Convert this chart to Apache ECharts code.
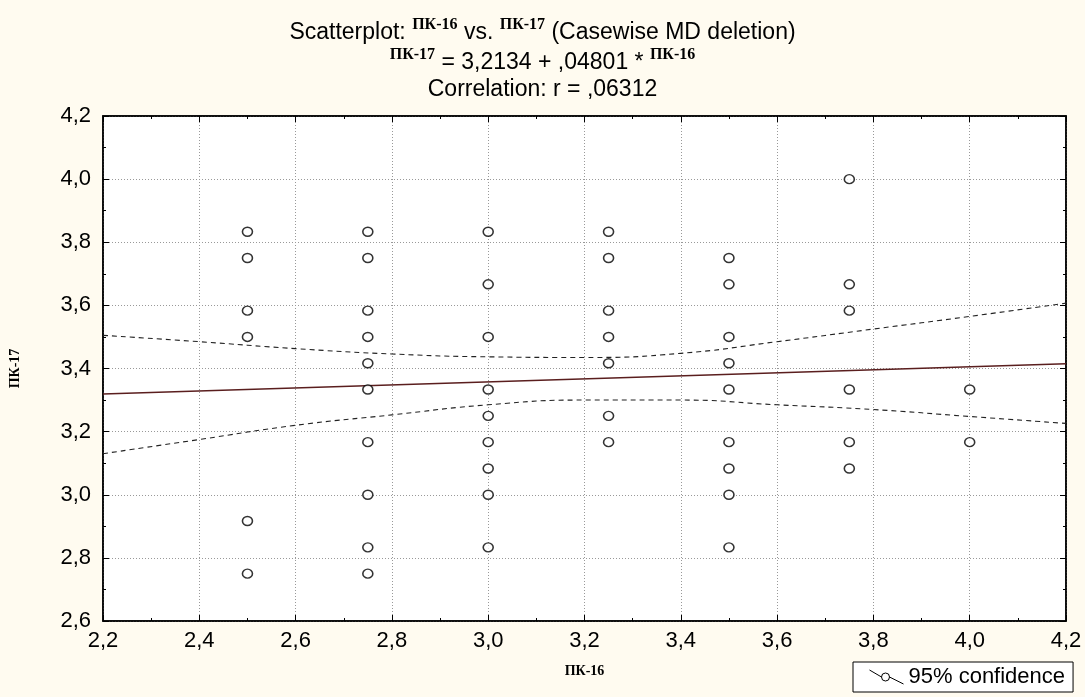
<!DOCTYPE html>
<html>
<head>
<meta charset="utf-8">
<script src="https://cdn.jsdelivr.net/npm/echarts@6/dist/echarts.min.js"></script>
<style>
  html, body { margin: 0; background: #fffbf0; }
  #chart { width: 1085px; height: 697px; }
</style>
</head>
<body>
<div id="chart"></div>
<script>
// --- данные: ПК-16 (x) против ПК-17 (y) ---
const col250 = [3.8333, 3.75, 3.5833, 3.5, 2.9167, 2.75];
const col275 = [3.8333, 3.75, 3.5833, 3.5, 3.4167, 3.3333, 3.1667, 3.0, 2.8333, 2.75];
const col300 = [3.8333, 3.6667, 3.5, 3.3333, 3.25, 3.1667, 3.0833, 3.0, 2.8333];
const col325 = [3.8333, 3.75, 3.5833, 3.5, 3.4167, 3.25, 3.1667];
const col350 = [3.75, 3.6667, 3.5, 3.4167, 3.3333, 3.1667, 3.0833, 3.0, 2.8333];
const col375 = [4.0, 3.6667, 3.5833, 3.3333, 3.1667, 3.0833];
const col400 = [3.3333, 3.1667];
const columnX = [2.5, 2.75, 3.0, 3.25, 3.5, 3.75, 4.0];
const columns = [col250, col275, col300, col325, col350, col375, col400];

// линия регрессии: ПК-17 = 3,2134 + ,04801 * ПК-16
const fitX = [2.2, 4.2];
const fitY = [3.319, 3.415];

// 95% доверительные границы
const bandX = [2.2, 2.4, 2.6, 2.8, 3.0, 3.2, 3.4, 3.6, 3.8, 4.0, 4.2];
const bandUpper = [3.505, 3.485, 3.463, 3.446, 3.437, 3.435, 3.448, 3.485, 3.525, 3.565, 3.607];
const bandLower = [3.130, 3.175, 3.220, 3.253, 3.285, 3.300, 3.300, 3.285, 3.270, 3.248, 3.226];

const points = [];
columns.forEach((ys, i) => ys.forEach(y => points.push([columnX[i], y])));

const comma = v => v.toFixed(1).replace('.', ',');
const serifSup = { fontFamily: 'Liberation Serif', fontWeight: 'bold', fontSize: 16, verticalAlign: 'top', lineHeight: 16, color: '#000' };
const sansMain = { fontFamily: 'Liberation Sans', fontWeight: 'normal', fontSize: 23, color: '#000', lineHeight: 27, verticalAlign: 'bottom' };

const chart = echarts.init(document.getElementById('chart'));

const gridLine = { show: true, lineStyle: { color: '#999', type: [1, 2], width: 1 } };
const tickIn = { show: true, inside: true, length: 6, lineStyle: { color: '#000' } };
const minorIn = { show: true, splitNumber: 2, length: 3, lineStyle: { color: '#000' } };
const tickFont = { fontFamily: 'Liberation Sans', fontSize: 22, color: '#000' };

chart.setOption({
    backgroundColor: '#fffbf0',
    animation: false,
    title: [
        {
            left: 'center', top: 12,
            text: '{m|Scatterplot: }{s|ПК-16}{m| vs. }{s|ПК-17}{m| (Casewise MD deletion)}',
            textStyle: { fontWeight: 'normal', rich: { m: sansMain, s: serifSup } }
        },
        {
            left: 'center', top: 42,
            text: '{s|ПК-17}{m| = 3,2134 + ,04801 * }{s|ПК-16}',
            textStyle: { fontWeight: 'normal', rich: { m: sansMain, s: serifSup } }
        },
        {
            left: 'center', top: 73,
            text: 'Correlation: r = ,06312',
            textStyle: { fontFamily: 'Liberation Sans', fontSize: 23, fontWeight: 'normal', color: '#000' }
        }
    ],
    legend: {
        data: ['95% confidence'],
        left: 853, top: 662,
        padding: [4, 8, 4, 14],
        borderColor: '#000', borderWidth: 1,
        backgroundColor: '#fff',
        itemWidth: 34, itemHeight: 14, itemGap: 6,
        icon: 'path://M0,0 L12,7 M20,7 L34,14 M12,7 A4,4 0 1 1 20,7 A4,4 0 1 1 12,7',
        itemStyle: { color: 'none', borderColor: '#000', borderWidth: 1 },
        textStyle: { fontFamily: 'Liberation Sans', fontSize: 22, color: '#000' }
    },
    grid: {
        left: 102, right: 19, top: 116, bottom: 76,
        show: true, backgroundColor: '#fff', borderColor: '#000', borderWidth: 1.5
    },
    xAxis: [
        {
            type: 'value', min: 2.2, max: 4.2, interval: 0.2,
            name: 'ПК-16', nameLocation: 'middle', nameGap: 43,
            nameTextStyle: { fontFamily: 'Liberation Serif', fontWeight: 'bold', fontSize: 14, color: '#000' },
            axisLine: { show: true, lineStyle: { color: '#000', width: 1.5 } },
            axisTick: tickIn, minorTick: minorIn,
            axisLabel: Object.assign({ formatter: comma, margin: 9 }, tickFont),
            splitLine: gridLine
        },
        {
            type: 'value', position: 'top', min: 2.2, max: 4.2, interval: 0.2,
            axisLine: { show: true, lineStyle: { color: '#000', width: 1.5 } },
            axisTick: tickIn, minorTick: minorIn,
            axisLabel: { show: false }, splitLine: { show: false }
        }
    ],
    yAxis: [
        {
            type: 'value', min: 2.6, max: 4.2, interval: 0.2,
            name: 'ПК-17', nameLocation: 'middle', nameGap: 81,
            nameTextStyle: { fontFamily: 'Liberation Serif', fontWeight: 'bold', fontSize: 14, color: '#000' },
            axisLine: { show: true, lineStyle: { color: '#000', width: 1.5 } },
            axisTick: tickIn, minorTick: minorIn,
            axisLabel: Object.assign({ formatter: comma, margin: 12 }, tickFont),
            splitLine: gridLine
        },
        {
            type: 'value', position: 'right', min: 2.6, max: 4.2, interval: 0.2,
            axisLine: { show: true, lineStyle: { color: '#000', width: 1.5 } },
            axisTick: tickIn, minorTick: minorIn,
            axisLabel: { show: false }, splitLine: { show: false }
        }
    ],
    series: [
        {
            name: 'fit', type: 'line', showSymbol: false, silent: true,
            data: fitX.map((x, i) => [x, fitY[i]]),
            lineStyle: { color: '#5a1e1e', width: 1.4 }
        },
        {
            name: '95% confidence', type: 'line', smooth: true, showSymbol: false,
            data: bandX.map((x, i) => [x, bandUpper[i]]),
            lineStyle: { color: '#222', width: 1.1, type: [5, 4] }
        },
        {
            name: '95% confidence', type: 'line', smooth: true, showSymbol: false,
            data: bandX.map((x, i) => [x, bandLower[i]]),
            lineStyle: { color: '#222', width: 1.1, type: [5, 4] }
        },
        {
            name: 'points', type: 'scatter', symbol: 'circle', symbolSize: [10, 9],
            data: points,
            itemStyle: { color: '#fff', borderColor: '#000', borderWidth: 1.5 },
            z: 5
        }
    ]
});

window.addEventListener('resize', () => chart.resize());
</script>
</body>
</html>
